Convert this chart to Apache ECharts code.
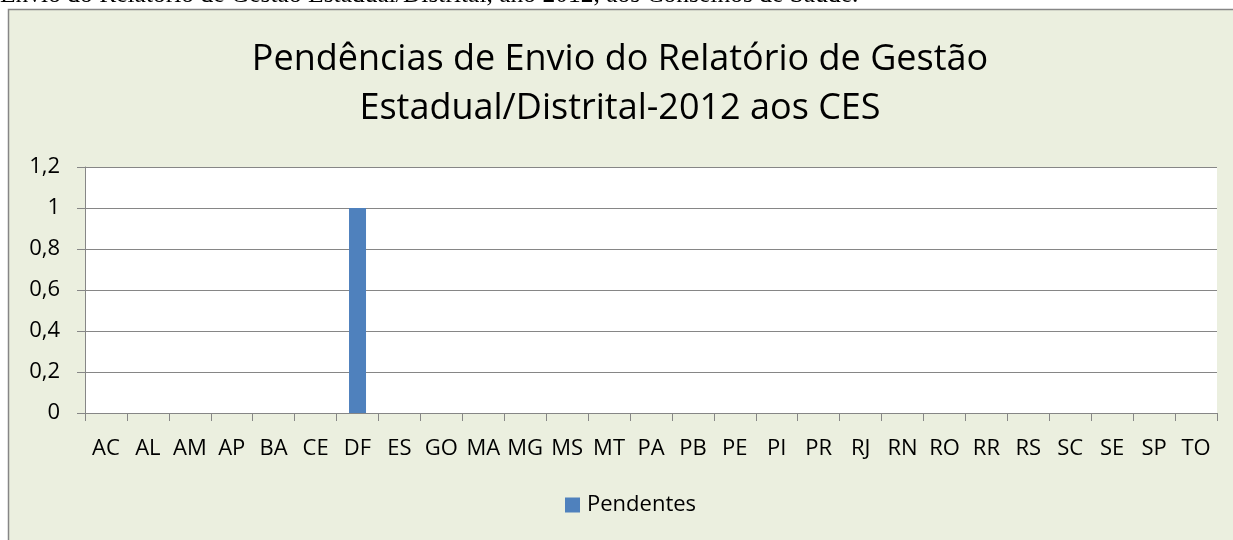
<!DOCTYPE html>
<html><head><meta charset="utf-8">
<script src="https://cdn.jsdelivr.net/npm/echarts@6/dist/echarts.min.js"></script>
<style>html,body{margin:0;padding:0;background:#fff}#c{width:1233px;height:540px}</style>
</head><body><div id="c"></div>
<script>
const categories = ['AC','AL','AM','AP','BA','CE','DF','ES','GO','MA','MG','MS','MT','PA','PB','PE','PI','PR','RJ','RN','RO','RR','RS','SC','SE','SP','TO'];
const pendentes = [0,0,0,0,0,0,1,0,0,0,0,0,0,0,0,0,0,0,0,0,0,0,0,0,0,0,0];
const yTicks = {min:0, max:1.2, interval:0.2};
const titleLines = ['Pendências de Envio do Relatório de Gestão','Estadual/Distrital-2012 aos CES'];
const captionText = 'Envio do Relatório de Gestão Estadual/Distrital, ano 2012, aos Conselhos de Saúde.';
const seriesName = 'Pendentes';

const font = 'Open Sans';
const chart = echarts.init(document.getElementById('c'), null, {renderer:'canvas'});
chart.setOption({
  backgroundColor:'#ffffff',
  animation:false,
  graphic:[
    {type:'rect', z:-10, shape:{x:8.5,y:9.5,width:1240,height:540}, style:{fill:'#EBEFDF', stroke:'#868686', lineWidth:1.5}},
    {type:'text', x:0, y:-5, style:{text:captionText, font:'25.5px "Liberation Serif"', fill:'#000', verticalAlign:'middle', align:'left'}},
    {type:'text', x:620, y:60, style:{text:titleLines[0], font:'36px "'+font+'"', fill:'#000', align:'center', verticalAlign:'middle'}},
    {type:'text', x:620, y:109, style:{text:titleLines[1], font:'36px "'+font+'"', fill:'#000', align:'center', verticalAlign:'middle'}}
  ],
  grid:{left:85, right:16, top:167, bottom:127, containLabel:false, show:true, backgroundColor:'#fff', borderWidth:0},
  legend:{top:489, left:560, itemWidth:15, itemHeight:15, itemGap:6, icon:'rect',
    textStyle:{fontFamily:font, fontSize:22, color:'#000', padding:[0,0,0,2]}, data:[seriesName]},
  xAxis:{type:'category', data:categories, boundaryGap:true,
    axisLine:{lineStyle:{color:'#868686', width:1}},
    axisTick:{show:true, length:8, lineStyle:{color:'#868686'}, alignWithLabel:false},
    axisLabel:{fontFamily:font, fontSize:22, color:'#000', margin:25, interval:0}},
  yAxis:{type:'value', min:yTicks.min, max:yTicks.max, interval:yTicks.interval,
    axisLine:{show:true, lineStyle:{color:'#868686', width:1}},
    axisTick:{show:true, length:8, lineStyle:{color:'#868686'}},
    splitLine:{lineStyle:{color:'#868686', width:1}},
    axisLabel:{fontFamily:font, fontSize:22, color:'#000', margin:25,
      formatter:v=>String(Math.round(v*10)/10).replace('.',',')}},
  series:[{name:seriesName, type:'bar', data:pendentes, barWidth:17, itemStyle:{color:'#4F81BD'}}]
});
</script></body></html>
